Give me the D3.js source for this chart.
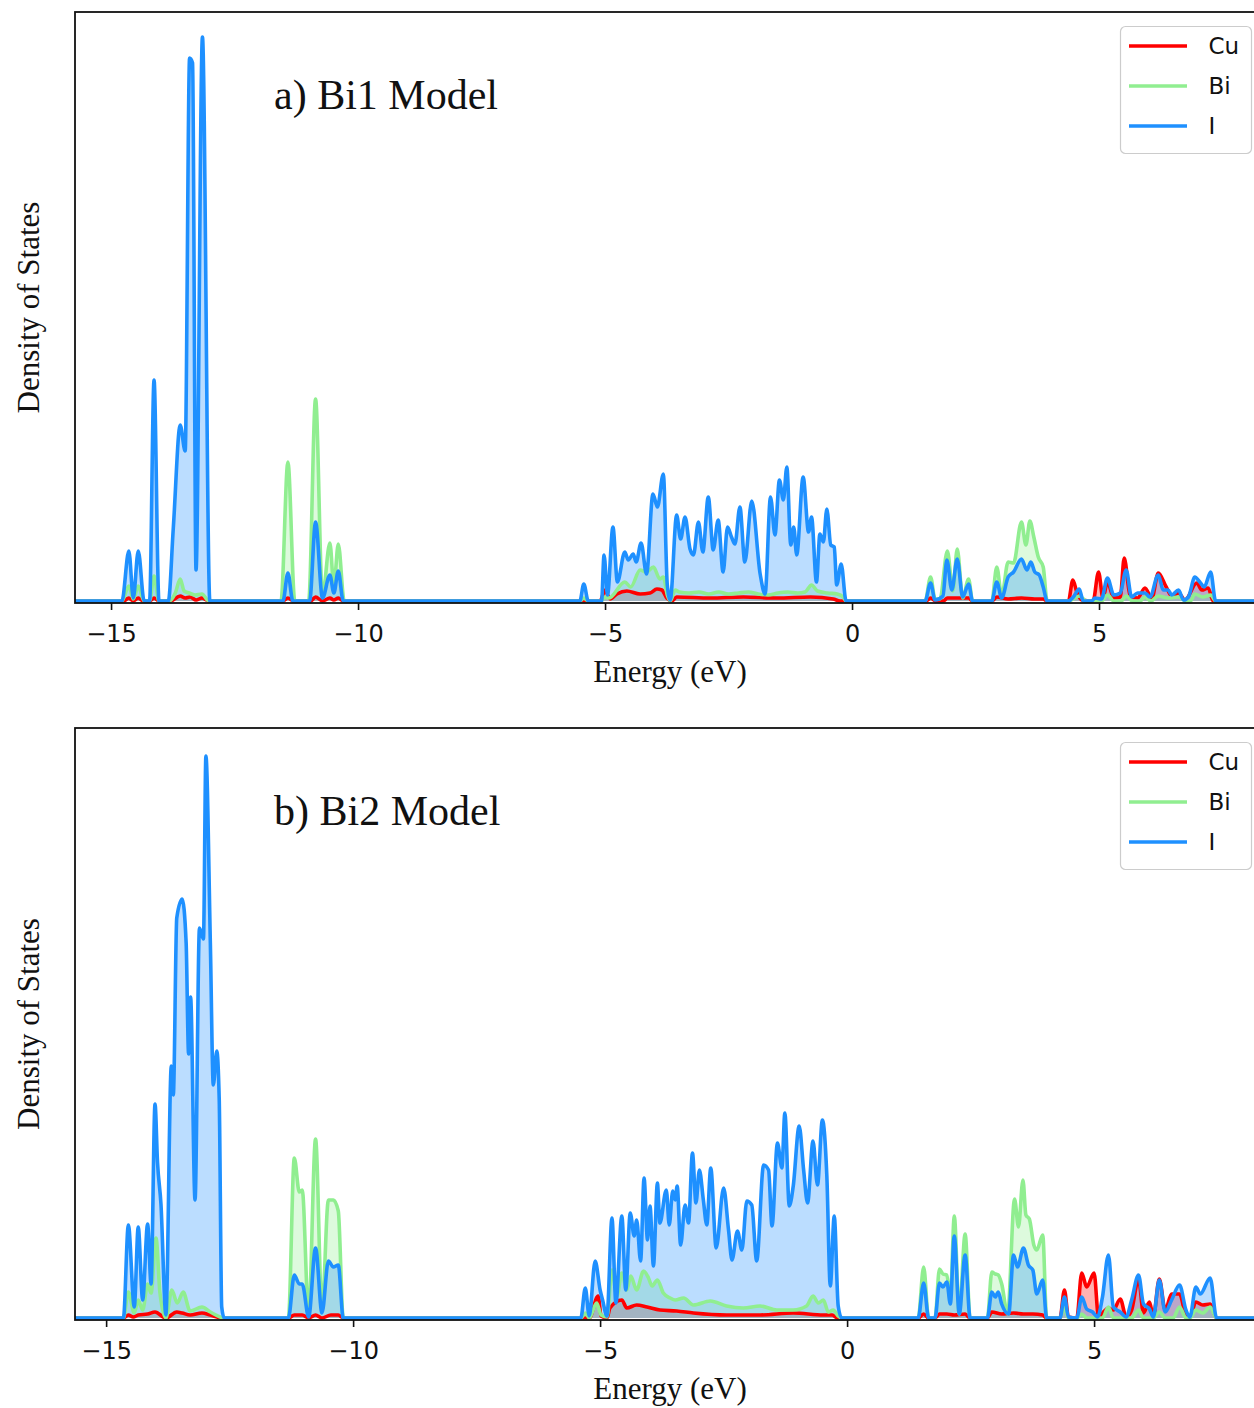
<!DOCTYPE html>
<html lang="en">
<head>
<meta charset="UTF-8">
<title>Density of States</title>
<script src="https://d3js.org/d3.v7.min.js"></script>
<style>
  body { margin: 0; padding: 0; background: #fff; }
  svg { display: block; }
  .tick text { font-family: "DejaVu Sans", sans-serif; font-size: 24px; fill: #111; }
  .tick line { stroke: #111; stroke-width: 1.6; }
  .serif { font-family: "Liberation Serif", "Times New Roman", serif; fill: #111; }
</style>
</head>
<body>
<svg id="chart" width="1254" height="1408"></svg>
<script>
// element names, colours and tick values
const elements = ["Cu", "Bi", "I"];
const colors = ["#ff0000", "#90ee90", "#1e90ff"];
const xTicks = [-15, -10, -5, 0, 5];
const titles = ["a) Bi1 Model", "b) Bi2 Model"];

// ---- Bi1 model, [energy eV, DOS] ----
const bi1Cu = [[-15.8,0],[-14.75,0],[-14.64,0.3],[-14.55,0],[-14.45,0.3],[-14.35,0],[-14.22,0],[-14.13,0.3],[-14.03,0],
  [-13.8,0],[-13.6,0.5],[-13.5,0.3],[-13.4,0.4],[-13.28,0.1],[-13.16,0.3],[-13.02,0],
  [-11.52,0],[-11.42,0.3],[-11.3,0],[-10.96,0],[-10.86,0.4],[-10.72,0],[-10.57,0.3],[-10.49,0.1],[-10.4,0.3],[-10.3,0],
  [-5.1,0],[-5.0,1.1],[-4.9,0.2],[-4.76,0.7],[-4.56,1.0],[-4.29,0.7],[-4.09,0.8],[-3.95,1.2],[-3.85,1.1],[-3.75,0.3],[-3.65,0],
  [-3.55,0.4],[-2.87,0.3],[-2.2,0.4],[-1.52,0.3],[-0.84,0.4],[-0.38,0.2],[-0.24,0],
  [1.5,0],[1.59,0.3],[1.7,0],[1.85,0],[1.93,0.3],[2.13,0.3],[2.36,0.3],[2.44,0],
  [2.83,0],[2.93,0.4],[3.16,0.2],[3.43,0.3],[3.7,0.2],[3.87,0.2],[3.95,0],
  [4.38,0],[4.47,2.1],[4.55,0.9],[4.65,0.1],[4.88,0],[4.99,2.9],[5.08,0.3],[5.17,1.9],[5.3,0.3],[5.43,0.4],[5.51,4.3],[5.63,0.5],
  [5.78,0.3],[5.93,1.3],[6.07,0.3],[6.2,2.8],[6.36,1.4],[6.47,0.5],[6.61,0.8],[6.74,0.1],[6.98,1.8],[7.08,1.1],[7.21,1.3],[7.31,0],[8.6,0]];

const bi1Bi = [[-15.8,0],[-14.78,0],[-14.64,1.5],[-14.55,0.2],[-14.45,1.5],[-14.33,0],[-14.22,0],[-14.13,2.5],[-14.03,0],
  [-13.82,0],[-13.7,0.8],[-13.6,2.2],[-13.52,1.0],[-13.42,0.8],[-13.3,0.6],[-13.16,0.7],[-13.02,0],
  [-11.56,0],[-11.42,13.9],[-11.28,0],[-11.0,0],[-10.86,20.2],[-10.72,0.5],[-10.57,5.8],[-10.49,1.5],[-10.4,5.7],[-10.28,0],
  [-5.51,0],[-5.43,0.3],[-5.34,0],[-5.08,0],[-5.0,0.4],[-4.92,0.3],[-4.6,1.9],[-4.48,1.4],[-4.29,3.1],[-4.16,2.9],[-4.02,3.4],
  [-3.89,2.2],[-3.82,2.4],[-3.74,0.6],[-3.68,0],[-3.58,1.1],[-3.5,0.9],[-3.3,0.8],[-3.1,0.9],[-2.9,0.7],[-2.7,0.9],[-2.5,0.7],
  [-2.3,0.8],[-2.1,0.9],[-1.9,0.7],[-1.7,0.6],[-1.5,0.8],[-1.3,0.9],[-1.1,0.8],[-0.95,0.9],[-0.82,1.6],[-0.7,1.0],[-0.5,0.8],
  [-0.3,0.7],[-0.18,0.4],[-0.12,0],
  [1.48,0],[1.59,2.4],[1.68,0.2],[1.78,0.2],[1.93,5.0],[2.04,1.0],[2.13,5.2],[2.24,0.3],[2.36,2.2],[2.44,0],
  [2.83,0],[2.93,3.4],[3.03,0.5],[3.16,3.9],[3.27,3.8],[3.43,7.9],[3.52,5.6],[3.6,8.0],[3.68,6.4],[3.77,4.4],[3.87,3.4],[3.95,0],
  [4.38,0],[4.6,0.5],[4.75,0],[5.05,0],[5.17,0.6],[5.3,0],[5.45,0],[5.55,0.5],[5.68,0],[5.83,0],[5.93,0.4],[6.05,0],
  [6.2,0.5],[6.4,0.3],[6.61,0.4],[6.75,0],[6.85,0],[6.94,0.7],[7.1,0.4],[7.26,0.6],[7.36,0],[8.6,0]];

const bi1I = [[-15.8,0],[-14.78,0],[-14.64,5.0],[-14.55,0.3],[-14.45,5.0],[-14.33,0],[-14.22,0],[-14.13,22.1],[-14.03,0],
  [-13.84,0],[-13.74,7.3],[-13.6,17.6],[-13.5,15.0],[-13.41,54.3],[-13.35,53.8],[-13.28,3.1],[-13.15,56.4],[-13.0,0],
  [-11.52,0],[-11.42,2.8],[-11.32,0],[-10.98,0],[-10.86,7.9],[-10.72,0.3],[-10.57,2.6],[-10.49,0.8],[-10.4,3.0],[-10.3,0],
  [-5.51,0],[-5.43,1.7],[-5.34,0],[-5.07,0],[-5.02,4.6],[-4.95,0.6],[-4.84,7.4],[-4.75,1.9],[-4.6,4.9],[-4.53,4.1],[-4.43,4.7],
  [-4.37,3.9],[-4.27,5.8],[-4.16,2.7],[-4.03,10.7],[-3.94,9.4],[-3.82,12.7],[-3.74,1.6],[-3.68,0.1],[-3.55,8.6],[-3.47,6.2],
  [-3.38,8.4],[-3.28,5.2],[-3.21,4.6],[-3.11,7.9],[-3.02,4.9],[-2.91,10.4],[-2.81,5.1],[-2.71,8.1],[-2.61,2.9],[-2.52,7.4],
  [-2.44,6.4],[-2.37,5.7],[-2.27,9.4],[-2.17,3.9],[-2.03,10.0],[-1.86,2.7],[-1.76,0.7],[-1.65,10.4],[-1.56,6.6],[-1.47,12.1],
  [-1.39,10.1],[-1.32,13.4],[-1.24,5.6],[-1.18,7.4],[-1.12,4.6],[-0.99,12.4],[-0.88,6.9],[-0.82,8.4],[-0.72,1.9],[-0.65,6.7],
  [-0.58,5.9],[-0.51,9.2],[-0.43,5.6],[-0.36,5.4],[-0.31,1.6],[-0.22,3.7],[-0.12,0],
  [1.48,0],[1.59,1.8],[1.68,0.1],[1.84,0.5],[1.92,4.1],[2.02,1.1],[2.13,4.2],[2.24,0.4],[2.36,1.7],[2.44,0],
  [2.83,0],[2.93,1.9],[3.03,0.3],[3.16,2.4],[3.27,2.9],[3.43,4.2],[3.54,3.1],[3.62,3.9],[3.7,2.9],[3.79,2.6],[3.87,1.4],[3.95,0],
  [4.38,0],[4.48,0.4],[4.6,1.2],[4.68,0],[4.85,0],[4.92,0.3],[5.05,0.2],[5.17,2.3],[5.3,0.6],[5.43,0.8],[5.55,3.1],[5.66,0.4],
  [5.78,0.8],[5.93,0.8],[6.03,0.4],[6.2,2.6],[6.3,1.1],[6.4,1.1],[6.47,0.6],[6.61,1.1],[6.71,0.1],[6.81,0.4],[6.94,2.4],
  [7.04,1.9],[7.13,1.4],[7.26,2.9],[7.36,0],[8.6,0]];

// ---- Bi2 model ----
const bi2Cu = [[-15.8,0],[-14.65,0],[-14.55,0.3],[-14.45,0.1],[-14.35,0.3],[-14.16,0.4],[-14.01,0.6],[-13.79,0],
  [-13.57,0.6],[-13.46,0.5],[-13.3,0.3],[-13.06,0.5],[-12.89,0.3],[-12.66,0],
  [-11.31,0],[-11.19,0.3],[-11.03,0.3],[-10.9,0],[-10.76,0.3],[-10.63,0],[-10.45,0.3],[-10.3,0.3],[-10.2,0],
  [-5.39,0],[-5.22,0],[-5.04,2.2],[-4.98,0.2],[-4.86,0],[-4.8,1.0],[-4.56,1.8],[-4.46,1.0],[-4.26,1.3],[-4.05,1.1],
  [-3.79,0.8],[-3.45,0.7],[-3.11,0.5],[-2.44,0.3],[-1.76,0.3],[-1.09,0.5],[-0.48,0.3],[-0.3,0.3],[-0.2,0],
  [1.44,0],[1.55,0.4],[1.65,0],[1.78,0],[1.87,0.4],[2.02,0.4],[2.17,0.3],[2.39,0.4],[2.49,0],
  [2.84,0],[2.93,0.6],[3.13,0.4],[3.37,0.5],[3.57,0.4],[3.76,0.4],[3.96,0.3],[4.04,0],
  [4.31,0],[4.4,2.8],[4.48,0.1],[4.65,0],[4.75,4.5],[4.85,3.1],[5.0,4.5],[5.09,0.1],[5.17,0.5],[5.29,1.0],[5.39,0.8],
  [5.53,1.9],[5.65,0.1],[5.76,0.8],[5.9,3.9],[6.0,0.5],[6.12,1.6],[6.2,0.2],[6.32,3.9],[6.44,0.8],[6.57,2.4],[6.73,2.4],
  [6.86,0.3],[6.94,0.1],[7.06,1.6],[7.2,1.3],[7.35,1.4],[7.48,0],[8.6,0]];

const bi2Bi = [[-15.8,0],[-14.65,0],[-14.55,2.6],[-14.43,0.5],[-14.35,1.8],[-14.26,0.8],[-14.16,3.4],[-14.09,2.5],
  [-13.99,8.0],[-13.91,2.5],[-13.79,0],[-13.67,2.8],[-13.56,1.5],[-13.44,2.6],[-13.3,0.7],[-13.06,1.1],[-12.89,0.6],[-12.69,0.1],[-12.63,0],
  [-11.31,0],[-11.19,16.0],[-11.09,12.6],[-11.03,12.8],[-10.9,0.3],[-10.76,17.9],[-10.63,0.8],[-10.5,11.8],[-10.4,11.8],[-10.3,10.7],[-10.2,0],
  [-5.39,0],[-5.3,0.5],[-5.22,0],[-5.07,1.5],[-4.98,0.3],[-4.86,0.1],[-4.76,4.8],[-4.66,2.2],[-4.56,4.5],[-4.46,2.8],
  [-4.38,4.2],[-4.26,2.8],[-4.12,4.7],[-4.02,4.0],[-3.95,3.2],[-3.84,3.8],[-3.72,2.5],[-3.58,2.0],[-3.48,1.8],[-3.31,2.0],
  [-3.11,1.3],[-2.77,1.7],[-2.44,1.2],[-2.1,1.0],[-1.76,1.2],[-1.42,0.8],[-1.09,0.8],[-0.82,1.2],[-0.69,2.2],[-0.58,1.5],
  [-0.48,1.8],[-0.38,0.6],[-0.28,0.8],[-0.18,0.2],[-0.11,0],
  [1.44,0],[1.55,5.1],[1.65,0],[1.78,0],[1.87,4.9],[1.94,4.4],[2.02,4.3],[2.09,1.8],[2.17,10.2],[2.27,0.4],[2.39,8.4],[2.49,0],
  [2.84,0],[2.93,4.6],[3.0,4.4],[3.06,4.3],[3.13,3.4],[3.25,0.4],[3.39,11.9],[3.47,9.1],[3.56,13.8],[3.62,10.3],[3.69,9.9],
  [3.78,7.3],[3.84,6.8],[3.96,8.3],[4.04,0],
  [4.31,0],[4.4,1.1],[4.48,0],[4.65,0],[4.75,0.4],[4.85,0],[5.17,0],[5.29,1.1],[5.39,0],[5.76,0],[5.9,0.8],[6.0,0],
  [6.2,0],[6.32,0.6],[6.44,0],[6.6,0],[6.73,1.1],[6.86,0],[6.94,0],[7.06,0.8],[7.2,0.5],[7.35,1.1],[7.48,0],[8.6,0]];

const bi2I = [[-15.8,0],[-14.65,0],[-14.55,9.3],[-14.43,1.1],[-14.35,9.1],[-14.26,1.8],[-14.16,9.4],[-14.09,3.4],
  [-14.01,21.4],[-13.96,15.6],[-13.89,11.4],[-13.79,0.3],[-13.68,25.2],[-13.64,22.3],[-13.57,40.0],[-13.46,41.9],
  [-13.38,37.5],[-13.33,26.4],[-13.29,32.1],[-13.2,11.8],[-13.11,39.0],[-13.03,37.9],[-12.98,56.2],[-12.89,37.5],
  [-12.83,23.3],[-12.76,26.7],[-12.71,21.8],[-12.66,1.1],[-12.61,0],
  [-11.31,0],[-11.19,4.3],[-11.09,3.4],[-11.03,3.4],[-10.9,0.1],[-10.76,7.0],[-10.63,0.5],[-10.5,5.7],[-10.4,5.1],[-10.3,5.3],[-10.2,0],
  [-5.39,0],[-5.3,3.0],[-5.22,0.2],[-5.1,5.7],[-5.0,2.8],[-4.95,1.8],[-4.86,0.2],[-4.76,10.0],[-4.68,1.5],[-4.56,10.2],
  [-4.48,2.8],[-4.39,10.5],[-4.31,8.2],[-4.26,9.8],[-4.18,5.7],[-4.11,14.0],[-4.04,7.8],[-3.99,11.2],[-3.92,5.2],[-3.84,13.5],
  [-3.79,9.5],[-3.66,12.8],[-3.6,9.3],[-3.53,12.7],[-3.48,11.8],[-3.44,13.2],[-3.37,7.3],[-3.28,11.3],[-3.21,9.5],[-3.13,16.5],
  [-3.06,11.5],[-2.99,14.8],[-2.91,11.8],[-2.84,9.3],[-2.76,15.0],[-2.65,7.0],[-2.5,13.0],[-2.4,8.8],[-2.33,5.8],[-2.22,8.7],
  [-2.13,6.8],[-2.03,11.7],[-1.93,11.3],[-1.83,5.7],[-1.69,15.3],[-1.59,14.8],[-1.52,9.2],[-1.41,17.5],[-1.32,15.0],[-1.26,20.5],
  [-1.17,11.2],[-1.09,13.2],[-0.97,19.2],[-0.88,14.8],[-0.8,11.5],[-0.69,17.7],[-0.6,13.3],[-0.5,19.8],[-0.41,14.2],[-0.34,3.2],
  [-0.26,10.2],[-0.18,1.2],[-0.11,0],
  [1.44,0],[1.55,3.5],[1.65,0],[1.78,0],[1.87,3.5],[1.94,3.1],[2.02,3.6],[2.09,1.4],[2.17,8.2],[2.27,0.4],[2.39,6.3],[2.49,0],
  [2.84,0],[2.93,2.6],[3.0,2.1],[3.06,2.6],[3.13,1.4],[3.27,0.4],[3.37,6.3],[3.45,5.1],[3.57,7.0],[3.67,5.3],[3.76,4.8],
  [3.84,2.4],[3.96,3.8],[4.04,0],
  [4.31,0],[4.4,2.1],[4.48,0.1],[4.65,0],[4.75,2.1],[4.85,0.9],[4.97,0.6],[5.07,0.1],[5.17,2.1],[5.29,6.3],[5.39,1.1],
  [5.53,0.6],[5.65,0.1],[5.76,1.8],[5.9,4.3],[6.0,1.4],[6.12,0.9],[6.2,0.1],[6.32,3.8],[6.44,0.6],[6.57,1.8],[6.73,3.3],
  [6.86,0.8],[6.94,0.1],[7.06,3.1],[7.15,2.4],[7.35,4.0],[7.48,0],[8.6,0]];

const panels = [
  { title: titles[0], series: [bi1Cu, bi1Bi, bi1I], xDomain: [-15.73, 8.36], yDomain: [-0.2, 58.9], top: 12, bottom: 603 },
  { title: titles[1], series: [bi2Cu, bi2Bi, bi2I], xDomain: [-15.63, 8.46], yDomain: [-0.2, 59.0], top: 728, bottom: 1320 }
];

const svg = d3.select("#chart");
const left = 75, right = 1265;

panels.forEach((p, k) => {
  const g = svg.append("g");
  const x = d3.scaleLinear().domain(p.xDomain).range([left, right]);
  const y = d3.scaleLinear().domain(p.yDomain).range([p.bottom, p.top]);

  // keep the curves inside the frame
  const clipId = "clip" + k;
  svg.append("clipPath").attr("id", clipId)
    .append("rect")
    .attr("x", left).attr("y", p.top - 5)
    .attr("width", right - left).attr("height", p.bottom - p.top + 5);
  const plot = g.append("g").attr("clip-path", `url(#${clipId})`);

  const area = d3.area()
    .x(d => x(d[0])).y0(y(0)).y1(d => y(d[1]))
    .curve(d3.curveMonotoneX);
  const line = d3.line()
    .x(d => x(d[0])).y(d => y(d[1]))
    .curve(d3.curveMonotoneX);

  // fills first, then the lines (Cu, Bi, I) so I sits on top
  p.series.forEach((s, i) => {
    plot.append("path").datum(s)
      .attr("d", area)
      .attr("fill", colors[i])
      .attr("fill-opacity", 0.3);
  });
  p.series.forEach((s, i) => {
    plot.append("path").datum(s)
      .attr("d", line)
      .attr("fill", "none")
      .attr("stroke", colors[i])
      .attr("stroke-width", 3.6)
      .attr("stroke-linejoin", "round");
  });

  // frame (right side falls outside the picture)
  g.append("rect")
    .attr("x", left).attr("y", p.top)
    .attr("width", right - left).attr("height", p.bottom - p.top)
    .attr("fill", "none").attr("stroke", "#111").attr("stroke-width", 1.8);

  const ax = g.append("g")
    .attr("transform", `translate(0,${p.bottom})`)
    .call(d3.axisBottom(x).tickValues(xTicks).tickSize(7).tickSizeOuter(0).tickPadding(15));
  ax.select(".domain").remove();

  g.append("text").attr("class", "serif")
    .attr("x", 670).attr("y", p.bottom + 79)
    .attr("text-anchor", "middle").style("font-size", "31px")
    .text("Energy (eV)");

  g.append("text").attr("class", "serif")
    .attr("transform", `translate(39,${(p.top + p.bottom) / 2}) rotate(-90)`)
    .attr("text-anchor", "middle").style("font-size", "31px")
    .text("Density of States");

  g.append("text").attr("class", "serif")
    .attr("x", 274).attr("y", p.top + 97)
    .style("font-size", "42px")
    .text(p.title);

  // legend
  const lg = g.append("g").attr("transform", `translate(1120.5,${p.top + 14.5})`);
  lg.append("rect")
    .attr("width", 131).attr("height", 127).attr("rx", 5)
    .attr("fill", "#fff").attr("fill-opacity", 0.8)
    .attr("stroke", "#cccccc").attr("stroke-width", 1.2);
  elements.forEach((name, i) => {
    const ly = 19.5 + i * 40;
    lg.append("line")
      .attr("x1", 8.5).attr("x2", 66.5).attr("y1", ly).attr("y2", ly)
      .attr("stroke", colors[i]).attr("stroke-width", 3.4);
    lg.append("text")
      .attr("x", 88).attr("y", ly + 8)
      .style("font-family", "DejaVu Sans, sans-serif")
      .style("font-size", "23px").style("fill", "#111")
      .text(name);
  });
});
</script>
</body>
</html>
